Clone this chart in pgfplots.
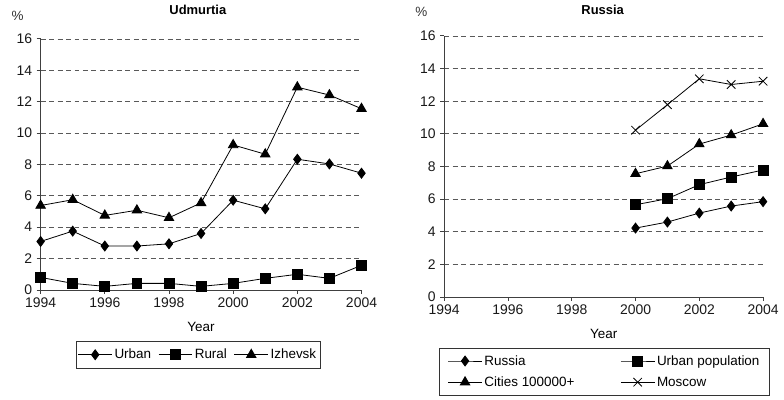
\documentclass[border=0pt]{standalone}
\usepackage{fontspec}
\setmainfont{Liberation Sans}
\usepackage{pgfplots}
\pgfplotsset{compat=1.18}
\begin{document}
\pgfplotsset{
  mystyle/.style={
    scale only axis,
    xmin=1994, xmax=2004, ymin=0, ymax=16,
    xtick={1994,1996,...,2004}, ytick={0,2,...,16},
    axis x line*=bottom, axis y line*=left,
    axis line style={black!75, line width=0.8pt},
    tick align=outside, major tick length=4pt,
    tick style={black!75, line width=0.8pt},
    xtick pos=bottom, ytick pos=left,
    ymajorgrids,
    major grid style={black!65, dash pattern=on 5pt off 3.5pt, line width=0.7pt},
    /pgf/number format/assume math mode=true,
    /pgf/number format/1000 sep={},
    tick label style={font=\fontsize{14}{16}\selectfont, text=black!90},
    yticklabel style={xshift=-1pt},
    xlabel={Year},
    label style={font=\fontsize{13.5}{16}\selectfont},
    legend style={draw=black!80, line width=0.6pt, font=\fontsize{13.5}{16}\selectfont},
    legend image code/.code={\draw[mark repeat=2,mark phase=2,line width=0.8pt] plot coordinates {(0pt,0pt) (17pt,0pt) (34pt,0pt)};},
    every axis plot/.append style={black, line width=0.8pt, mark options={solid, fill=black}},
    clip=false,
  }
}
\begin{tikzpicture}
\useasboundingbox (0pt,0pt) rectangle (784pt,401pt);
\begin{axis}[mystyle, at={(38pt,110pt)}, anchor=origin, width=322pt, height=252pt,
  xlabel style={at={(axis description cs:0.5,-0.148)}, anchor=center},
  legend columns=3,
  legend style={at={(axis description cs:0.4905,-0.258)}, anchor=center,
    inner xsep=2pt, inner ysep=6pt,
    /tikz/every even column/.append style={column sep=5pt}},
]
\addplot[mark=diamond*, mark size=5pt] coordinates {
(1994,3.09) (1995,3.75) (1996,2.8) (1997,2.8) (1998,2.94) (1999,3.6)
(2000,5.72) (2001,5.17) (2002,8.33) (2003,8.03) (2004,7.44)};
\addlegendentry{Urban}
\addplot[mark=square*, mark size=5pt] coordinates {
(1994,0.8) (1995,0.42) (1996,0.23) (1997,0.42) (1998,0.42) (1999,0.23)
(2000,0.42) (2001,0.74) (2002,1.0) (2003,0.74) (2004,1.57)};
\addlegendentry{Rural}
\addplot[mark=triangle*, mark size=5.5pt] coordinates {
(1994,5.38) (1995,5.75) (1996,4.75) (1997,5.08) (1998,4.6) (1999,5.55)
(2000,9.24) (2001,8.65) (2002,12.92) (2003,12.42) (2004,11.55)};
\addlegendentry{Izhevsk}
\node[font=\fontsize{13}{15}\selectfont\bfseries] at (rel axis cs:0.49,1.115) {Udmurtia};
\node[font=\fontsize{13.5}{15}\selectfont, text=black!80] at (rel axis cs:-0.072,1.09) {\%};
\end{axis}
\begin{axis}[mystyle, at={(443pt,103pt)}, anchor=origin, width=320pt, height=262pt,
  xlabel style={at={(axis description cs:0.5,-0.14)}, anchor=center},
  legend columns=2, legend cell align=left,
  legend style={at={(axis description cs:0.503,-0.286)}, anchor=center,
    inner xsep=8pt, inner ysep=5pt, row sep=6pt,
    /tikz/every even column/.append style={column sep=44pt}},
]
\addplot[mark=diamond*, mark size=5pt] coordinates {
(2000,4.22) (2001,4.59) (2002,5.14) (2003,5.57) (2004,5.84)};
\addlegendentry{Russia}
\addplot[mark=square*, mark size=5pt] coordinates {
(2000,5.65) (2001,6.02) (2002,6.88) (2003,7.35) (2004,7.78)};
\addlegendentry{Urban population}
\addplot[mark=triangle*, mark size=5.5pt] coordinates {
(2000,7.55) (2001,8.02) (2002,9.37) (2003,9.92) (2004,10.61)};
\addlegendentry{Cities 100000+}
\addplot[mark=x, mark size=6pt] coordinates {
(2000,10.22) (2001,11.78) (2002,13.37) (2003,13.02) (2004,13.22)};
\addlegendentry{Moscow}
\node[font=\fontsize{13}{15}\selectfont\bfseries] at (rel axis cs:0.497,1.099) {Russia};
\node[font=\fontsize{13.5}{15}\selectfont, text=black!80] at (rel axis cs:-0.072,1.092) {\%};
\end{axis}
\end{tikzpicture}
\end{document}
